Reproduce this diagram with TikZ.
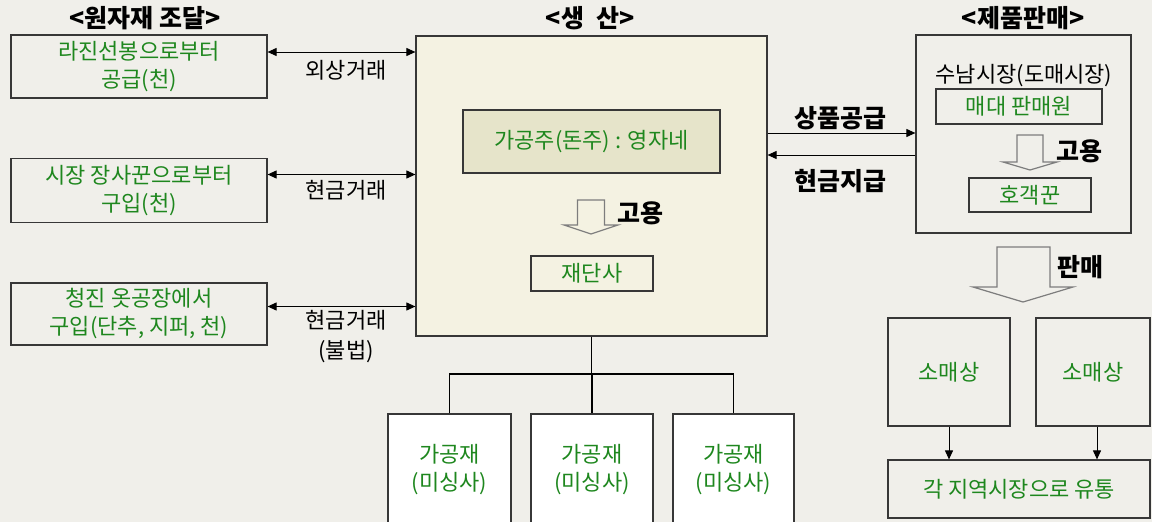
\documentclass[tikz,border=0pt]{standalone}
\usepackage{fontspec}
\setmainfont{Noto Sans CJK KR}
\usetikzlibrary{arrows.meta}
\definecolor{bg}{RGB}{240,239,234}
\definecolor{prodfill}{RGB}{244,242,226}
\definecolor{ownerfill}{RGB}{230,228,202}
\definecolor{txtgreen}{RGB}{30,135,30}
\definecolor{edge}{RGB}{55,55,55}
\definecolor{hollow}{RGB}{125,125,125}
\begin{document}
\begin{tikzpicture}[x=1pt,y=-1pt,
  box/.style={draw=edge, line width=1.2pt, inner sep=0pt, align=center, text=txtgreen,
              font=\fontsize{22}{28}\selectfont},
  title/.style={font=\fontsize{25}{28}\selectfont\bfseries, text=black, inner sep=0pt},
  lbl/.style={font=\fontsize{22}{30}\selectfont, text=black, inner sep=0pt, align=center},
  blbl/.style={font=\fontsize{25}{28}\selectfont\bfseries, text=black, inner sep=0pt},
  arr/.style={draw=black, line width=1pt, -{Triangle[length=9pt,width=8pt]}},
  dbl/.style={draw=black, line width=1pt, {Triangle[length=9pt,width=8pt]}-{Triangle[length=9pt,width=8pt]}},
  tree/.style={draw=black, line width=1.8pt},
  hol/.style={draw=hollow, line width=1.2pt, line join=miter}
]
\fill[bg] (0,0) rectangle (1152,522);
\useasboundingbox (0,0) rectangle (1152,522);

% titles
\node[title] (t1) at (145,18) {<원자재 조달>};
\node[title] (t2) at (590,18) {<생\hspace{12pt}산>};
\node[title] (t3) at (1023,18) {<제품판매>};

% left boxes
\node[box, minimum width=256pt, minimum height=63pt] (l1) at (139,66.5) {라진선봉으로부터\\공급(천)};
\node[box, minimum width=256pt, minimum height=64pt] (l2) at (139,190.5) {시장 장사꾼으로부터\\구입(천)};
\node[box, minimum width=256pt, minimum height=62pt] (l3) at (139,314) {청진 옷공장에서\\구입(단추, 지퍼, 천)};

% production
\node[box, fill=prodfill, minimum width=351pt, minimum height=300pt] (prod) at (591.5,186) {};
\node[box, fill=ownerfill, minimum width=257pt, minimum height=63pt] (owner) at (591.5,141.5) {가공주(돈주) : 영자네};
\node[box, minimum width=122pt, minimum height=35pt] (cutter) at (592,273.5) {재단사};
\draw[hol] (577.5,200) -- (604.5,200) -- (604.5,225) -- (618,225) -- (591,234) -- (564,225) -- (577.5,225) -- cycle;
\node[blbl] (emp1) at (640,213) {고용};

% left arrows
\path ([yshift=14.5pt]l1.east) coordinate (a1);
\path ([yshift=16pt]l2.east) coordinate (a2);
\path ([yshift=7.5pt]l3.east) coordinate (a3);
\draw[dbl] (a1) -- (a1 -| prod.west);
\draw[dbl] (a2) -- (a2 -| prod.west);
\draw[dbl] (a3) -- (a3 -| prod.west);
\node[lbl] (c1) at (346,70) {외상거래};
\node[lbl] (c2) at (346,190) {현금거래};
\node[lbl] (c3) at (346,337) {현금거래\\(불법)};

% sales
\node[box, minimum width=215pt, minimum height=198pt] (sales) at (1023.5,134) {};
\node[lbl] (whole) at (1024,76) {수남시장(도매시장)};
\node[box, minimum width=166pt, minimum height=35pt] (seller) at (1019,106.5) {매대 판매원};
\node[box, minimum width=122pt, minimum height=34pt] (tout) at (1030,195) {호객꾼};
\draw[hol] (1017,135) -- (1043,135) -- (1043,162) -- (1057,162) -- (1030,170) -- (1003,162) -- (1017,162) -- cycle;
\node[blbl] (emp2) at (1079,151) {고용};

% right arrows
\path (prod.east |- 0,133) coordinate (s1);
\path (prod.east |- 0,155) coordinate (s2);
\draw[arr] (s1) -- (s1 -| sales.west);
\draw[arr] (s2 -| sales.west) -- (s2);
\node[blbl] (sup) at (840,118) {상품공급};
\node[blbl] (pay) at (840,181) {현금지급};

% sell arrow
\draw[hol] (997,247) -- (1050,247) -- (1050,287) -- (1073,287) -- (1023,302) -- (973,287) -- (997,287) -- cycle;
\node[blbl] (sell) at (1080,267) {판매};

% retailers
\node[box, minimum width=122pt, minimum height=108pt] (r1) at (949,372) {소매상};
\node[box, minimum width=114pt, minimum height=108pt] (r2) at (1093,372) {소매상};
\node[box, minimum width=262pt, minimum height=58pt] (dist) at (1019,489) {각 지역시장으로 유통};
\draw[arr] (r1.south) -- (r1.south |- dist.north);
\draw[arr] ([xshift=4pt]r2.south) -- ([xshift=4pt]r2.south |- dist.north);

% workers
\node[box, fill=white, minimum width=123pt, minimum height=112pt] (w1) at (449.5,470) {가공재\\(미싱사)};
\node[box, fill=white, minimum width=122pt, minimum height=112pt] (w2) at (592,470) {가공재\\(미싱사)};
\node[box, fill=white, minimum width=121pt, minimum height=112pt] (w3) at (733.5,470) {가공재\\(미싱사)};
\path (prod.south) ++(0,37) coordinate (hub);
\draw[tree] (prod.south) -- (hub);
\draw[tree] (w1.north) |- (hub) -| (w3.north);
\draw[tree] (hub) -- (hub -| w2.north) -- (w2.north);
\end{tikzpicture}
\end{document}
